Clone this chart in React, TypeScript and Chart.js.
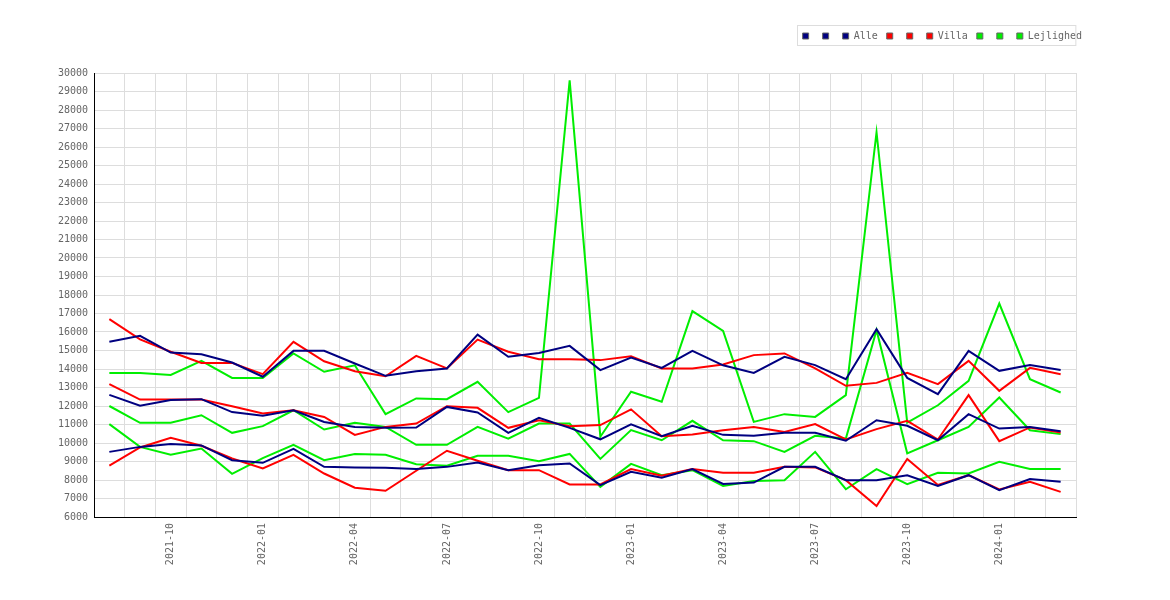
import { useEffect, useRef } from "react";
import { Chart, registerables } from "chart.js";

Chart.register(...registerables);

const months = [
  "2021-08", "2021-09", "2021-10", "2021-11", "2021-12", "2022-01", "2022-02", "2022-03",
  "2022-04", "2022-05", "2022-06", "2022-07", "2022-08", "2022-09", "2022-10", "2022-11",
  "2022-12", "2023-01", "2023-02", "2023-03", "2023-04", "2023-05", "2023-06", "2023-07",
  "2023-08", "2023-09", "2023-10", "2023-11", "2023-12", "2024-01", "2024-02", "2024-03",
];

// Alle
const alleHigh = [
  15470, 15790, 14890, 14800, 14350, 13580, 14980, 14980, 14300, 13630, 13880, 14030, 15860, 14660, 14870, 15250,
  13940, 14620, 14060, 14980, 14200, 13790, 14660, 14210, 13450, 16150, 13520, 12640, 14980, 13900, 14210, 13940,
];
const alleMid = [
  12600, 12010, 12320, 12370, 11670, 11470, 11770, 11140, 10870, 10820, 10840, 11950, 11650, 10550, 11360, 10820,
  10200, 11010, 10370, 10930, 10440, 10390, 10550, 10550, 10120, 11230, 10930, 10150, 11560, 10780, 10870, 10640,
];
const alleLow = [
  9520, 9790, 9940, 9870, 9070, 8930, 9680, 8710, 8680, 8660, 8590, 8710, 8950, 8530, 8800, 8890,
  7720, 8440, 8120, 8590, 7790, 7860, 8710, 8710, 7990, 7990, 8260, 7680, 8260, 7450, 8050, 7900,
];

// Villa
const villaHigh = [
  16700, 15600, 14930, 14330, 14330, 13720, 15470, 14420, 13880, 13610, 14710, 14030, 15590, 14930, 14530, 14530,
  14480, 14690, 14030, 14030, 14240, 14750, 14840, 14030, 13090, 13250, 13790, 13180, 14440, 12820, 14060, 13720,
];
const villaMid = [
  13180, 12350, 12350, 12350, 11990, 11590, 11770, 11410, 10440, 10870, 11050, 11990, 11900, 10820, 11230, 10910,
  10970, 11820, 10370, 10460, 10690, 10870, 10600, 11020, 10190, 10750, 11200, 10190, 12590, 10100, 10840, 10570,
];
const villaLow = [
  8780, 9760, 10280, 9850, 9160, 8620, 9360, 8350, 7580, 7420, 8500, 9580, 9040, 8530, 8530, 7760,
  7760, 8590, 8230, 8590, 8390, 8390, 8710, 8680, 7990, 6590, 9140, 7730, 8260, 7490, 7900, 7360,
];

// Lejlighed
const lejlHigh = [
  13790, 13790, 13680, 14440, 13520, 13520, 14840, 13850, 14200, 11560, 12410, 12370, 13310, 11670, 12440, 29600,
  10340, 12770, 12230, 17130, 16060, 11140, 11560, 11410, 12590, 26800, 11100, 12040, 13360, 17540, 13450, 12730,
];
const lejlMid = [
  12000, 11090, 11090, 11500, 10550, 10910, 11770, 10730, 11090, 10870, 9900, 9900, 10870, 10230, 11050, 11050,
  9140, 10700, 10150, 11200, 10150, 10100, 9520, 10390, 10240, 16100, 9440, 10150, 10870, 12460, 10690, 10480,
];
const lejlLow = [
  11020, 9790, 9360, 9700, 8330, 9180, 9900, 9070, 9410, 9360, 8850, 8770, 9310, 9310, 9020, 9410,
  7630, 8870, 8260, 8530, 7680, 7940, 7990, 9520, 7500, 8590, 7780, 8390, 8350, 8980, 8590, 8590,
];

const NAVY = "#000080";
const RED = "#ff0000";
const GREEN = "#00ee00";
const MONO = "'DejaVu Sans Mono', monospace";

const line = (label: string, data: number[], color: string) => ({
  label,
  data,
  borderColor: color,
  backgroundColor: color,
  borderWidth: 2,
  pointRadius: 0,
  tension: 0,
  fill: false,
});

// frame round the legend
const legendFrame = {
  id: "legendFrame",
  afterDraw(chart: any) {
    const lg = chart.legend;
    if (!lg || !lg.legendHitBoxes.length) return;
    const first = lg.legendHitBoxes[0];
    const ctx = chart.ctx;
    const cy = first.top + first.height / 2;
    ctx.save();
    ctx.strokeStyle = "#dddddd";
    ctx.lineWidth = 1;
    ctx.strokeRect(Math.round(first.left) - 5.5, Math.round(cy) - 10.5, chart.chartArea.right - first.left + 5, 20);
    ctx.restore();
  },
};

const App = () => {
  const canvasRef = useRef<HTMLCanvasElement>(null);

  useEffect(() => {
    if (!canvasRef.current) return;
    const chart = new Chart(canvasRef.current, {
      type: "line",
      data: {
        labels: months,
        datasets: [
          line("", alleLow, NAVY),
          line("", alleHigh, NAVY),
          line("Alle", alleMid, NAVY),
          line("", villaLow, RED),
          line("", villaHigh, RED),
          line("Villa", villaMid, RED),
          line("", lejlLow, GREEN),
          line("", lejlHigh, GREEN),
          line("Lejlighed", lejlMid, GREEN),
        ],
      },
      options: {
        animation: false,
        responsive: true,
        maintainAspectRatio: false,
        layout: { padding: { top: 14, right: 71, bottom: 0, left: 0 } },
        plugins: {
          tooltip: { enabled: false },
          title: { display: true, text: "", weight: 500, padding: { top: 10, bottom: 0 }, font: { size: 10 } } as any,
          legend: {
            position: "top",
            align: "end",
            weight: 3000,
            labels: {
              boxWidth: 6,
              boxHeight: 6,
              padding: 9,
              color: "#666666",
              font: { family: MONO, size: 10 },
              generateLabels: (c: any) =>
                Chart.defaults.plugins.legend.labels.generateLabels(c).map((l: any) => ({
                  ...l,
                  strokeStyle: "#666666",
                  lineWidth: 1,
                })),
            },
          } as any,
        },
        scales: {
          x: {
            type: "category",
            offset: true,
            grid: { offset: true, color: "#dddddd", drawTicks: false },
            border: { color: "#000000" },
            ticks: {
              autoSkip: false,
              minRotation: 90,
              maxRotation: 90,
              padding: 6,
              color: "#666666",
              font: { family: MONO, size: 10 },
              callback: function (this: any, v: any) {
                const m = String(this.getLabelForValue(v));
                return /-(01|04|07|10)$/.test(m) ? m : "";
              },
            },
            afterFit: (s: any) => {
              s.height = 75;
            },
          },
          y: {
            min: 6000,
            max: 30000,
            grid: { color: "#dddddd", drawTicks: false },
            border: { color: "#000000" },
            ticks: {
              stepSize: 1000,
              padding: 6,
              color: "#666666",
              font: { family: MONO, size: 10 },
              callback: (v: any) => String(v),
            },
            afterFit: (s: any) => {
              s.width = 86;
            },
          },
          yR: {
            type: "linear",
            position: "right",
            grid: { display: false },
            border: { display: false },
            ticks: { display: false },
            afterFit: (s: any) => {
              s.width = 15;
            },
          },
        },
      },
      plugins: [legendFrame],
    });
    return () => chart.destroy();
  }, []);

  return (
    <div style={{ width: 1154, height: 584 }}>
      <canvas ref={canvasRef} />
    </div>
  );
};

export default App;
